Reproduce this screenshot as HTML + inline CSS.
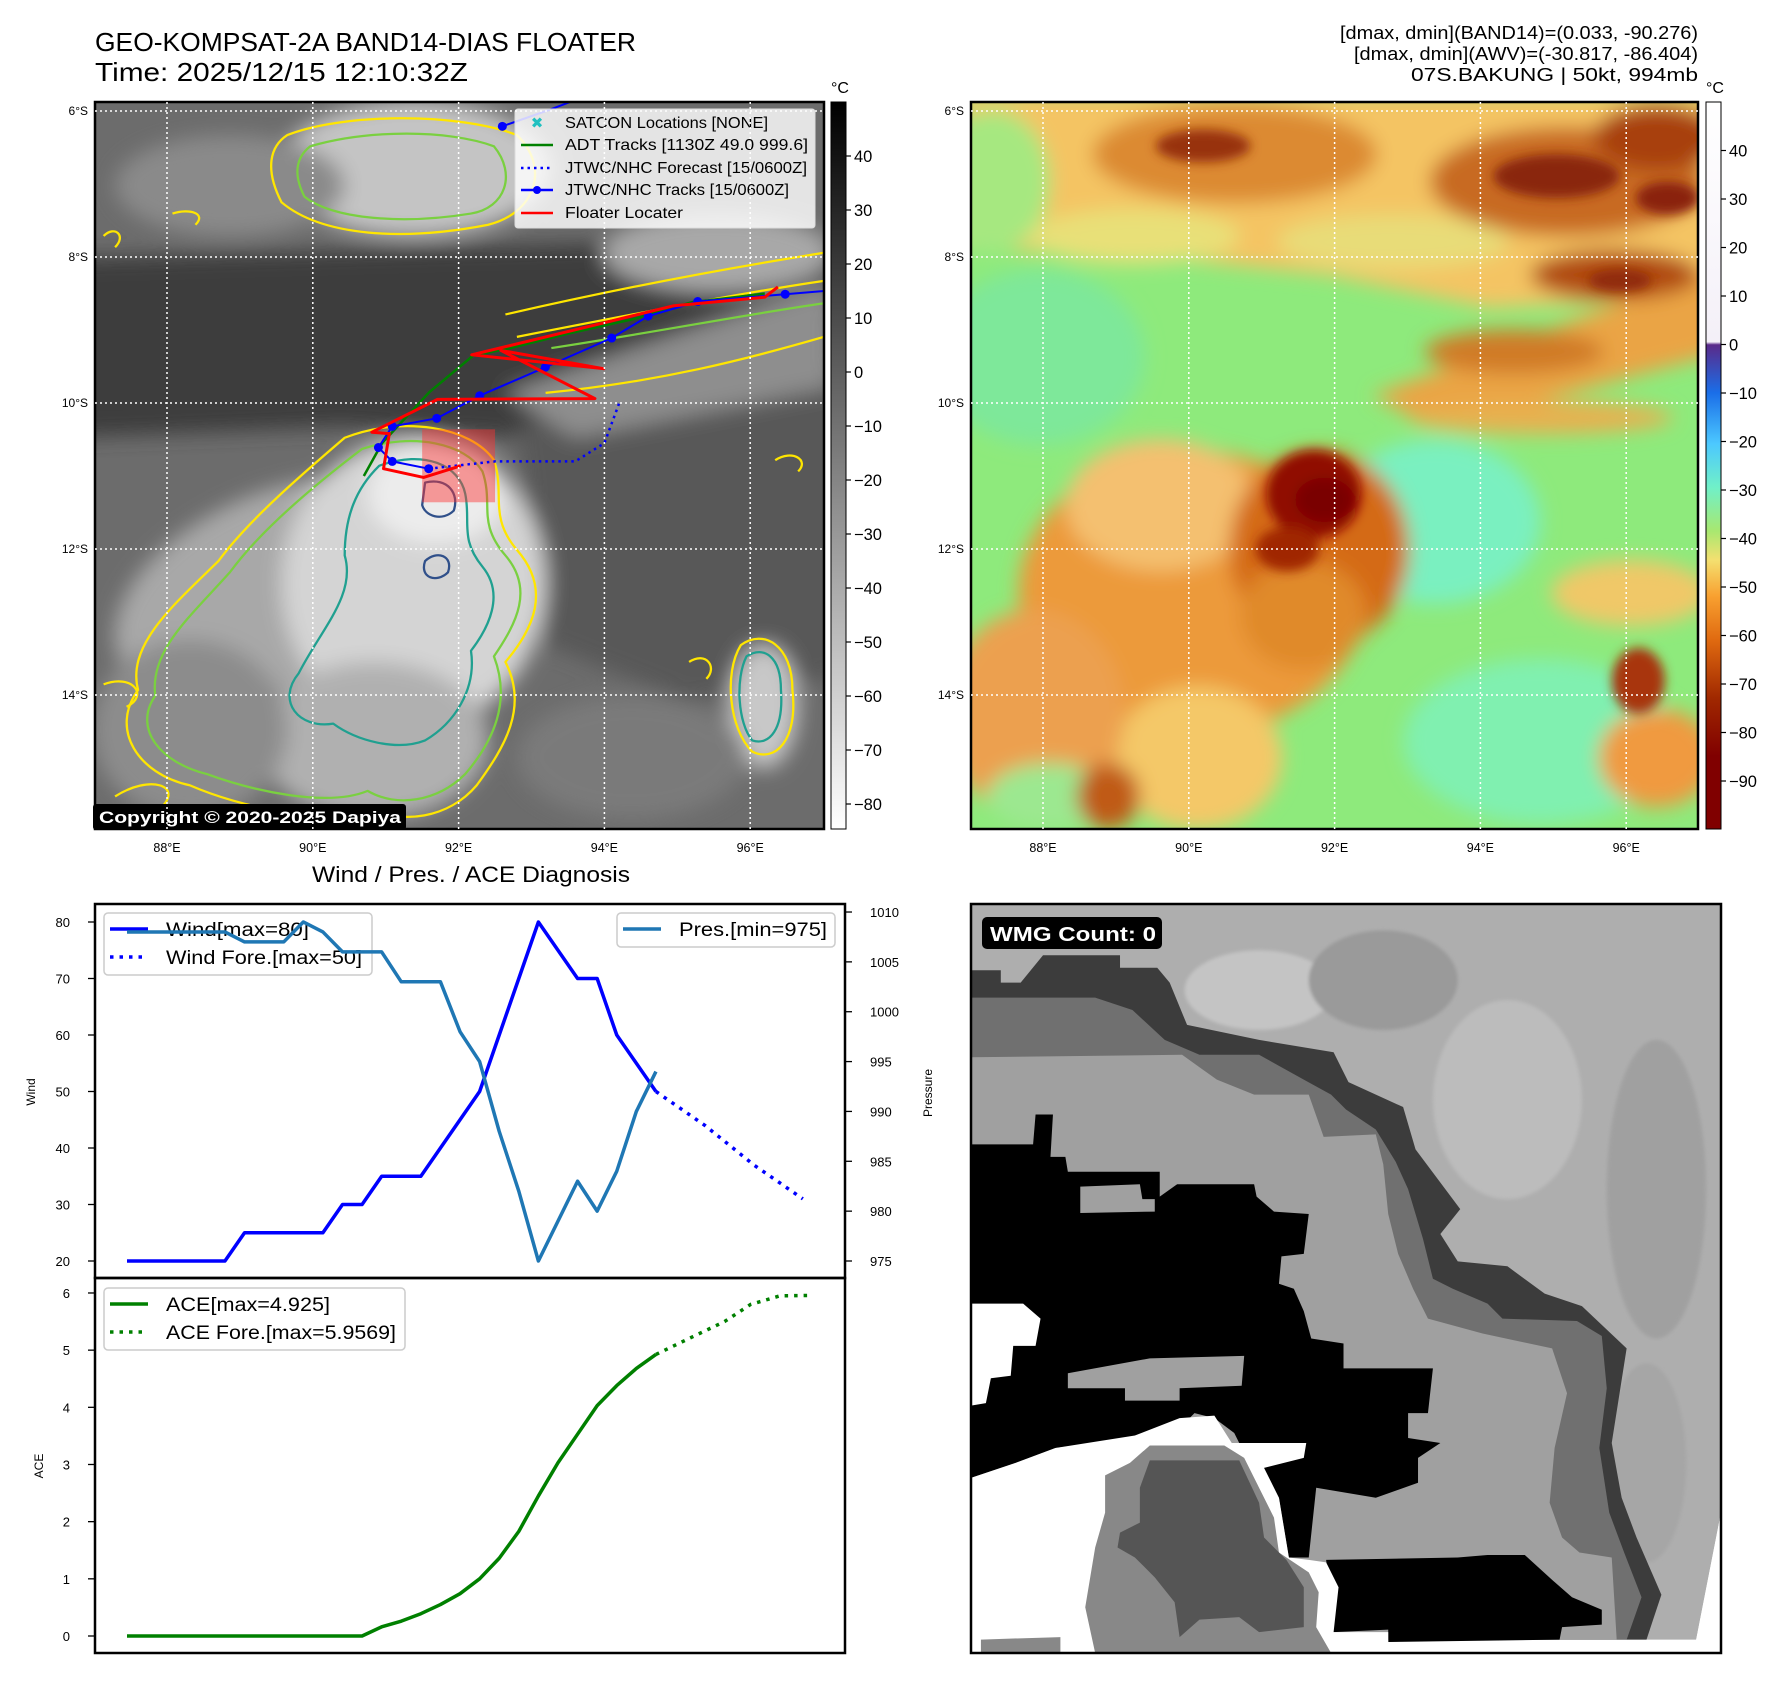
<!DOCTYPE html>
<html><head><meta charset="utf-8">
<style>
html,body{margin:0;padding:0;background:#fff;}
svg{display:block;font-family:"Liberation Sans","DejaVu Sans",sans-serif;}
</style></head>
<body>
<svg id="root" width="1788" height="1690" viewBox="0 0 1788 1690" xmlns="http://www.w3.org/2000/svg">
<defs>
  <filter id="blur1" x="-20%" y="-20%" width="140%" height="140%"><feGaussianBlur stdDeviation="18"/></filter>
  <filter id="blur2" x="-20%" y="-20%" width="140%" height="140%"><feGaussianBlur stdDeviation="10"/></filter>
  <filter id="blur3" x="-20%" y="-20%" width="140%" height="140%"><feGaussianBlur stdDeviation="4"/></filter>
  <linearGradient id="cbGray" x1="0" y1="0" x2="0" y2="1">
    <stop offset="0" stop-color="#000"/><stop offset="1" stop-color="#fff"/>
  </linearGradient>
  <linearGradient id="cbColor" x1="0" y1="0" x2="0" y2="1">
    <stop offset="0" stop-color="#ffffff"/>
    <stop offset="0.33" stop-color="#f4f0f8"/>
    <stop offset="0.334" stop-color="#5a2a8a"/>
    <stop offset="0.40" stop-color="#1a6ee8"/>
    <stop offset="0.47" stop-color="#4cc8ff"/>
    <stop offset="0.53" stop-color="#70f0c8"/>
    <stop offset="0.59" stop-color="#a8e870"/>
    <stop offset="0.63" stop-color="#f4e070"/>
    <stop offset="0.68" stop-color="#f8a030"/>
    <stop offset="0.74" stop-color="#e06a10"/>
    <stop offset="0.82" stop-color="#a02800"/>
    <stop offset="0.90" stop-color="#800000"/>
    <stop offset="1" stop-color="#800000"/>
  </linearGradient>
  <clipPath id="clipTL"><rect x="95" y="102" width="729" height="727"/></clipPath>
  <clipPath id="clipTR"><rect x="971" y="102" width="727" height="727"/></clipPath>
  <clipPath id="clipBR"><rect x="971" y="904" width="750" height="749"/></clipPath>
</defs>

<!-- Titles -->
<text x="95" y="51" font-size="26" textLength="541" lengthAdjust="spacingAndGlyphs" fill="#000">GEO-KOMPSAT-2A BAND14-DIAS FLOATER</text>
<text x="95" y="81" font-size="26" textLength="373" lengthAdjust="spacingAndGlyphs" fill="#000">Time: 2025/12/15 12:10:32Z</text>
<g font-size="18" text-anchor="end" fill="#000">
  <text x="1698" y="39" textLength="358" lengthAdjust="spacingAndGlyphs">[dmax, dmin](BAND14)=(0.033, -90.276)</text>
  <text x="1698" y="60" textLength="344" lengthAdjust="spacingAndGlyphs">[dmax, dmin](AWV)=(-30.817, -86.404)</text>
  <text x="1698" y="81" textLength="287" lengthAdjust="spacingAndGlyphs">07S.BAKUNG | 50kt, 994mb</text>
</g>

<!-- ===== Top-left IR map ===== -->
<g clip-path="url(#clipTL)">
 <svg x="95" y="102" width="729" height="727" viewBox="165 181 1270 1297" preserveAspectRatio="none">
  <rect x="100" y="100" width="1400" height="1450" fill="#6c6c6c"/>
  <g filter="url(#blur1)">
   <polygon points="100,460 1500,420 1500,560 1100,620 900,780 600,760 100,780" fill="#3c3c3c"/>
   <polygon points="900,760 1500,640 1500,1200 1200,1250 950,1150" fill="#585858"/>
   <ellipse cx="720" cy="300" rx="240" ry="120" fill="#c4c4c4"/>
   <ellipse cx="400" cy="330" rx="200" ry="90" fill="#8a8a8a"/>
   <ellipse cx="1250" cy="450" rx="200" ry="70" fill="#a8a8a8"/>
   <polygon points="880,700 1450,500 1450,690 1000,780" fill="#8e8e8e"/>
   <ellipse cx="480" cy="1050" rx="300" ry="170" fill="#a8a8a8" transform="rotate(-25 480 1050)"/>
   <ellipse cx="720" cy="1040" rx="230" ry="260" fill="#d4d4d4"/>
   <ellipse cx="650" cy="1320" rx="200" ry="140" fill="#b0b0b0"/>
   <ellipse cx="330" cy="1300" rx="170" ry="160" fill="#8c8c8c"/>
   <ellipse cx="760" cy="880" rx="120" ry="90" fill="#ececec"/>
   <ellipse cx="1330" cy="1260" rx="60" ry="110" fill="#c8c8c8"/>
   <ellipse cx="1100" cy="1350" rx="200" ry="110" fill="#7a7a7a"/>
  </g>
  <g fill="none" stroke-width="4" stroke-linejoin="round">
   <path d="M600,780 C700,740 820,760 860,820 C880,880 850,920 900,980 C960,1050 930,1120 880,1180 C920,1260 880,1330 830,1400 C780,1460 700,1470 640,1440 C560,1470 420,1440 330,1400 C240,1380 190,1300 240,1230 C220,1150 300,1080 380,1000 C430,930 520,850 600,780 Z" stroke="#ffe600"/>
   <path d="M630,800 C720,770 810,790 840,840 C860,900 830,930 880,990 C930,1050 900,1110 860,1170 C890,1250 860,1320 810,1380 C760,1430 690,1440 640,1410 C570,1440 440,1410 360,1380 C280,1360 230,1300 270,1240 C260,1160 330,1100 400,1020 C450,950 540,870 630,800 Z" stroke="#7ad040"/>
   <path d="M660,830 C740,800 800,830 810,880 C820,930 800,960 840,1010 C880,1060 850,1120 820,1160 C830,1230 790,1290 740,1320 C690,1340 620,1320 580,1290 C520,1300 480,1250 520,1200 C560,1120 620,1060 600,990 C600,920 620,870 660,830 Z" stroke="#20a090"/>
   <path d="M740,860 C780,850 800,880 790,910 C770,930 740,920 735,900 Z M740,1000 C760,980 790,990 780,1020 C760,1040 730,1030 740,1000 Z" stroke="#30508a"/>
   <path d="M500,240 C600,200 800,200 900,240 C960,300 930,380 850,400 C700,430 560,420 490,360 C460,300 470,260 500,240 Z" stroke="#ffe600"/>
   <path d="M540,260 C640,230 780,230 860,260 C900,310 880,370 820,380 C700,400 580,390 530,350 C510,310 515,280 540,260 Z" stroke="#7ad040"/>
   <path d="M880,560 C1050,520 1250,480 1435,450 M900,600 C1100,560 1300,520 1435,500 M950,700 C1150,680 1300,640 1435,600" stroke="#ffe600"/>
   <path d="M960,620 C1150,590 1300,560 1435,540" stroke="#7ad040"/>
   <path d="M1290,1150 C1330,1120 1380,1150 1380,1230 C1390,1320 1350,1360 1310,1340 C1270,1300 1260,1200 1290,1150 Z" stroke="#ffe600"/>
   <path d="M1300,1170 C1330,1150 1360,1170 1360,1230 C1365,1300 1340,1330 1310,1320 C1285,1290 1280,1210 1300,1170 Z" stroke="#20a090"/>
   <path d="M180,420 C200,400 220,420 200,440 M300,380 C330,370 360,380 340,400 M180,1220 C230,1200 260,1240 220,1260 M200,1420 C260,1380 320,1400 280,1440 M1200,1180 C1230,1160 1250,1190 1230,1210 M1350,820 C1380,800 1410,820 1390,840" stroke="#ffe600"/>
  </g>
 </svg>
 <g id="tlTracks"></g>
</g>
<rect x="95" y="102" width="729" height="727" fill="none" stroke="#000" stroke-width="2.5"/>

<!-- legend top-left -->
<g>
  <rect x="515" y="109" width="300" height="119" rx="3" fill="#fff" fill-opacity="0.82" stroke="#ddd"/>
  <g font-size="16" fill="#000" lengthAdjust="spacingAndGlyphs">
    <text x="565" y="128" textLength="203" lengthAdjust="spacingAndGlyphs">SATCON Locations [NONE]</text>
    <text x="565" y="150" textLength="243" lengthAdjust="spacingAndGlyphs">ADT Tracks [1130Z 49.0 999.6]</text>
    <text x="565" y="173" textLength="242" lengthAdjust="spacingAndGlyphs">JTWC/NHC Forecast [15/0600Z]</text>
    <text x="565" y="195" textLength="224" lengthAdjust="spacingAndGlyphs">JTWC/NHC Tracks [15/0600Z]</text>
    <text x="565" y="218" textLength="118" lengthAdjust="spacingAndGlyphs">Floater Locater</text>
  </g>
  <text x="537" y="128" font-size="15" font-weight="bold" fill="#20c0c0" text-anchor="middle">✖</text>
  <line x1="521" y1="145" x2="553" y2="145" stroke="#008000" stroke-width="2.5"/>
  <line x1="521" y1="168" x2="553" y2="168" stroke="#0000ff" stroke-width="2.5" stroke-dasharray="2.5,4"/>
  <line x1="521" y1="190" x2="553" y2="190" stroke="#0000ff" stroke-width="2.5"/>
  <circle cx="537" cy="190" r="4" fill="#0000ff"/>
  <line x1="521" y1="213" x2="553" y2="213" stroke="#ff0000" stroke-width="2.5"/>
</g>
<g>
  <rect x="93" y="804" width="313" height="26" rx="3" fill="#000"/>
  <text x="99" y="823" font-size="17" font-weight="bold" fill="#fff" textLength="302" lengthAdjust="spacingAndGlyphs">Copyright © 2020-2025 Dapiya</text>
</g>

<!-- colorbar 1 -->
<g>
  <rect x="831" y="102" width="15" height="727" fill="url(#cbGray)" stroke="#000" stroke-width="1"/>
  <text x="840" y="93" font-size="16" text-anchor="middle">°C</text>
  <g id="cb1ticks" font-size="16.5"></g>
</g>

<!-- ===== Top-right color map ===== -->
<g clip-path="url(#clipTR)">
 <svg x="971" y="102" width="727" height="727" viewBox="20 185 1378 1325" preserveAspectRatio="none">
  <rect x="0" y="150" width="1450" height="1400" fill="#8eea7c"/>
  <g filter="url(#blur1)">
   <ellipse cx="150" cy="650" rx="200" ry="160" fill="#7ee89a"/>
   <ellipse cx="900" cy="950" rx="200" ry="150" fill="#7af0c0"/>
   <ellipse cx="1100" cy="1350" rx="260" ry="150" fill="#80f0b0"/>
   <polygon points="0,170 1450,170 1450,540 1000,560 700,500 400,470 0,450" fill="#f4c464"/>
   <ellipse cx="60" cy="330" rx="110" ry="130" fill="#a6e880"/>
   <ellipse cx="330" cy="430" rx="200" ry="50" fill="#e8e078"/>
   <ellipse cx="820" cy="440" rx="220" ry="50" fill="#e8dc78"/>
   <ellipse cx="520" cy="280" rx="270" ry="90" fill="#dc8a30"/>
   <ellipse cx="1150" cy="330" rx="260" ry="100" fill="#c86a20"/>
   <ellipse cx="1320" cy="250" rx="120" ry="60" fill="#a84008"/>
   <polygon points="780,720 1450,480 1450,640 900,780" fill="#eaa444"/>
   <ellipse cx="1240" cy="500" rx="160" ry="45" fill="#b04a10"/>
   <ellipse cx="1050" cy="640" rx="170" ry="40" fill="#d07a28"/>
   <ellipse cx="1100" cy="760" rx="250" ry="30" fill="#e8b050"/>
   <ellipse cx="440" cy="1080" rx="330" ry="260" fill="#ec9a3a"/>
   <ellipse cx="380" cy="920" rx="180" ry="120" fill="#f4c070"/>
   <ellipse cx="680" cy="1000" rx="170" ry="180" fill="#d46a18"/>
   <ellipse cx="650" cy="1120" rx="120" ry="100" fill="#e08a2a"/>
   <ellipse cx="450" cy="1380" rx="160" ry="130" fill="#f4c868"/>
   <ellipse cx="140" cy="1300" rx="170" ry="190" fill="#eca050"/>
   <ellipse cx="170" cy="1450" rx="120" ry="60" fill="#9ce890"/>
   <ellipse cx="280" cy="1450" rx="60" ry="60" fill="#c05a18"/>
   <ellipse cx="1320" cy="1380" rx="110" ry="90" fill="#f09a40"/>
   <ellipse cx="1270" cy="1080" rx="150" ry="60" fill="#f0c868"/>
  </g>
  <g filter="url(#blur2)">
   <ellipse cx="670" cy="900" rx="90" ry="80" fill="#900800"/>
   <ellipse cx="690" cy="910" rx="55" ry="40" fill="#7a0000"/>
   <ellipse cx="620" cy="1000" rx="60" ry="40" fill="#a02800"/>
   <ellipse cx="1285" cy="1240" rx="50" ry="60" fill="#a83408"/>
   <ellipse cx="460" cy="265" rx="90" ry="30" fill="#98300a"/>
   <ellipse cx="1130" cy="320" rx="120" ry="40" fill="#8a2608"/>
   <ellipse cx="1340" cy="360" rx="60" ry="30" fill="#8a2008"/>
   <ellipse cx="1250" cy="510" rx="60" ry="20" fill="#902a08"/>
  </g>
 </svg>
</g>
<rect x="971" y="102" width="727" height="727" fill="none" stroke="#000" stroke-width="2.5"/>
<g>
  <rect x="1706" y="102" width="15" height="727" fill="url(#cbColor)" stroke="#000" stroke-width="1"/>
  <text x="1715" y="93" font-size="16" text-anchor="middle">°C</text>
  <g id="cb2ticks" font-size="16.5"></g>
</g>

<!-- grids and lat/lon labels generated -->
<g id="mapGrids"></g>

<!-- ===== Bottom-right WMG panel ===== -->
<g clip-path="url(#clipBR)">
 <svg x="971" y="904" width="750" height="749" viewBox="20 27 1510 1505" preserveAspectRatio="none">
  <rect x="0" y="0" width="1600" height="1600" fill="#fff"/>
  <polygon points="20,27 1530,27 1530,1250 1480,1505 20,1505" fill="#aeaeae"/>
  <g filter="url(#blur3)">
   <ellipse cx="600" cy="200" rx="150" ry="80" fill="#c4c4c4"/>
   <ellipse cx="850" cy="180" rx="150" ry="100" fill="#9a9a9a"/>
   <ellipse cx="1100" cy="420" rx="150" ry="200" fill="#bcbcbc"/>
   <ellipse cx="1400" cy="600" rx="100" ry="300" fill="#a0a0a0"/>
   <ellipse cx="1380" cy="1150" rx="80" ry="200" fill="#a6a6a6"/>
  </g>
  <polygon points="20,160 80,160 80,185 120,185 165,130 320,130 320,155 395,155 420,185 455,270 600,300 750,325 780,385 890,435 915,520 1005,640 965,690 1000,745 1100,755 1175,810 1250,835 1340,920 1310,1110 1330,1220 1360,1300 1410,1415 1380,1505 20,1505" fill="#3c3c3c"/>
  <polygon points="20,215 185,215 270,215 345,240 410,300 480,330 600,330 690,380 745,410 775,440 835,480 875,545 900,600 930,700 950,780 990,800 1060,830 1090,860 1240,865 1290,895 1300,1000 1285,1120 1305,1250 1335,1330 1370,1420 1340,1505 20,1505" fill="#707070"/>
  <polygon points="20,335 445,330 480,355 515,380 590,410 700,410 730,495 835,490 850,550 860,650 880,730 910,800 940,860 1050,890 1190,920 1220,1010 1195,1120 1185,1230 1210,1300 1245,1330 1310,1340 1320,1505 20,1505" fill="#a0a0a0"/>
  <polygon points="20,510 145,510 150,450 185,450 180,535 210,535 215,565 400,565 400,615 435,590 590,590 595,615 630,645 700,650 690,730 645,735 640,790 670,800 690,845 705,900 770,910 770,960 950,960 940,1050 900,1050 900,1100 965,1110 920,1140 920,1190 835,1220 715,1200 700,1340 660,1340 640,1220 600,1200 580,1150 550,1090 510,1060 470,1050 440,1080 400,1080 350,1100 190,1120 110,1150 20,1180" fill="#000"/>
  <polygon points="240,595 360,590 365,620 390,620 390,645 240,648" fill="#a0a0a0"/>
  <polygon points="215,970 380,940 570,935 565,995 440,1000 440,1025 330,1025 330,1000 215,1000" fill="#a0a0a0"/>
  <polygon points="735,1345 1000,1340 1060,1335 1135,1335 1190,1385 1230,1420 1290,1445 1290,1475 1210,1480 1205,1505 860,1510 860,1485 750,1490" fill="#000"/>
  <polygon points="20,830 125,830 160,860 150,915 105,915 100,975 60,980 50,1030 20,1035" fill="#fff"/>
  <polygon points="20,1180 110,1150 190,1120 350,1095 440,1060 510,1055 545,1110 620,1110 695,1110 690,1140 610,1160 640,1220 660,1340 700,1345 735,1350 760,1400 750,1490 860,1490 860,1532 20,1532" fill="#fff"/>
  <polygon points="290,1175 340,1150 380,1115 530,1115 570,1140 600,1200 630,1260 640,1330 700,1370 720,1410 715,1480 745,1532 270,1532 250,1440 270,1320 290,1250" fill="#888"/>
  <polygon points="40,1505 200,1500 200,1532 40,1532" fill="#888"/>
  <polygon points="380,1145 560,1145 600,1230 610,1300 655,1345 690,1400 690,1480 600,1490 560,1460 480,1465 440,1500 430,1430 390,1380 350,1340 315,1320 320,1290 360,1270 360,1200" fill="#555"/>
  <polygon points="1480,1505 1530,1250 1530,1532 1480,1532" fill="#fff"/>
 </svg>
</g>
<rect x="971" y="904" width="750" height="749" fill="none" stroke="#000" stroke-width="2.5"/>
<g>
  <rect x="982" y="917" width="180" height="32" rx="5" fill="#000"/>
  <text x="990" y="941" font-size="20" font-weight="bold" fill="#fff" textLength="166" lengthAdjust="spacingAndGlyphs">WMG Count: 0</text>
</g>

<!-- ===== Bottom-left charts ===== -->
<text x="471" y="882" font-size="22" text-anchor="middle" textLength="318" lengthAdjust="spacingAndGlyphs">Wind / Pres. / ACE Diagnosis</text>
<g id="charts"></g>
</svg>

<script>
// ---------- Chart data ----------
const windHours = [0,6,12,18,24,30,36,42,48,54,60,66,72,78,84,90,96,102,108,114,120,126,132,138,144,150,156,162];
const windValues = [20,20,20,20,20,20,25,25,25,25,25,30,30,35,35,35,40,45,50,60,70,80,75,70,70,60,55,50];
const windForeHours = [162,177,192,207];
const windForeValues = [50,44,37,31];
const presHours = [0,6,12,18,24,30,36,42,48,54,60,66,72,78,84,90,96,102,108,114,120,126,132,138,144,150,156,162];
const presValues = [1008,1008,1008,1008,1008,1008,1007,1007,1007,1009,1008,1006,1006,1006,1003,1003,1003,998,995,988,982,975,979,983,980,984,990,994];
const aceHours = [0,6,12,18,24,30,36,42,48,54,60,66,72,78,84,90,96,102,108,114,120,126,132,138,144,150,156,162];
const aceValues = [0,0,0,0,0,0,0,0,0,0,0,0,0,0.16,0.26,0.39,0.55,0.74,1.0,1.36,1.83,2.45,3.03,3.53,4.03,4.38,4.68,4.925];
const aceForeHours = [162,172,183,191,200,209];
const aceForeValues = [4.925,5.2,5.5,5.8,5.95,5.957];
const windTicks = [20,30,40,50,60,70,80];
const presTicks = [975,980,985,990,995,1000,1005,1010];
const aceTicks = [0,1,2,3,4,5,6];
// ---------- Track data (lon E, lat S) ----------
const jtwcLon = [92.6,93.2,93.6];
const jtwcLat = [6.21,6.0,5.85];
const bestLon = [97.2,96.48,95.28,94.60,94.10,93.19,92.29,91.70,91.09,90.90,91.09,91.59];
const bestLat = [8.45,8.51,8.61,8.81,9.11,9.51,9.90,10.21,10.32,10.61,10.80,10.90];
const foreLon = [91.59,92.5,93.6,94.0,94.2];
const foreLat = [10.90,10.80,10.80,10.55,10.01];
const adtLon = [90.7,90.95,91.6,92.2,92.7,93.5,94.4,95.2,95.8,96.2];
const adtLat = [11.0,10.55,9.85,9.35,9.25,9.05,8.85,8.62,8.55,8.5];
const floaterLon = [96.38,96.2,94.94,94.0,92.18,93.99,92.58,93.87,91.71,90.81,91.05,90.97,91.52,92.03];
const floaterLat = [8.41,8.55,8.67,8.9,9.34,9.53,9.28,9.94,9.95,10.40,10.42,10.90,11.02,10.86];
const boxLon = [91.5,92.5];
const boxLat = [10.36,11.36];
const cb1Ticks = [40,30,20,10,0,-10,-20,-30,-40,-50,-60,-70,-80];
const cb2Ticks = [40,30,20,10,0,-10,-20,-30,-40,-50,-60,-70,-80,-90];
const lonTicks = [88,90,92,94,96];
const latTicks = [6,8,10,12,14];

const NS = 'http://www.w3.org/2000/svg';
function mk(tag, attrs, parent){ const e=document.createElementNS(NS,tag); for(const k in attrs) e.setAttribute(k,attrs[k]); if(parent) parent.appendChild(e); return e; }

// axis functions
const hx = h => 127 + h*3.265;
const wy = v => 1261 - (v-20)*5.65;
const py = p => 1261 - (p-975)*9.971;
const ay = a => 1636 - a*57.17;
const lonX = (lon, off) => 167 + off + (lon-88)*72.9;
const latY = lat => 111 + (lat-6)*73;
const cb1Y = v => 102 + (50-v)*5.4;
const cb2Y = v => 102 + (50-v)*4.85;

// colorbar ticks
const cb1 = document.getElementById('cb1ticks');
cb1Ticks.forEach(v=>{ const y=cb1Y(v);
  const l=mk('line',{x1:846,x2:851,y1:y,y2:y,stroke:'#000','stroke-width':1.2},cb1);
  
  
  const t=mk('text',{x:854,y:y+6},cb1); t.textContent=(v<0?'\u2212'+(-v):v);
  
  
});
const cb2 = document.getElementById('cb2ticks');
cb2Ticks.forEach(v=>{ const y=cb2Y(v);
  const l=mk('line',{x1:1721,x2:1726,y1:y,y2:y,stroke:'#000','stroke-width':1.2},cb2);
  
  
  const t=mk('text',{x:1729,y:y+6},cb2); t.textContent=(v<0?'\u2212'+(-v):v);
  
  
});

// map grids
const grids = document.getElementById('mapGrids');
[[0,95,824],[876,971,1698]].forEach(([off,x0,x1])=>{
  lonTicks.forEach(lon=>{ const x=lonX(lon,off);
    const g=mk('line',{x1:x,x2:x,y1:102,y2:829,stroke:'#fff','stroke-width':1.5,'stroke-dasharray':'2,3'},grids);
    
    
    const t=mk('text',{x:x,y:852,'font-size':12.5,'text-anchor':'middle'},grids); t.textContent=lon+'°E';
    
    
  });
  latTicks.forEach(lat=>{ const y=latY(lat);
    const g=mk('line',{x1:x0,x2:x1,y1:y,y2:y,stroke:'#fff','stroke-width':1.5,'stroke-dasharray':'2,3'},grids);
    
    
    const t=mk('text',{x:x0-7,y:y+4,'font-size':12,'text-anchor':'end'},grids); t.textContent=lat+'°S';
    
    
  });
});

// tracks
const tr = document.getElementById('tlTracks');
function pts(lons,lats){ return lons.map((l,i)=>lonX(l,0)+','+latY(lats[i])).join(' '); }
const box = mk('rect',{x:lonX(boxLon[0],0),y:latY(boxLat[0]),width:lonX(boxLon[1],0)-lonX(boxLon[0],0),height:latY(boxLat[1])-latY(boxLat[0]),fill:'#ff3030','fill-opacity':0.45},tr);


const adt = mk('polyline',{points:pts(adtLon,adtLat),fill:'none',stroke:'#008000','stroke-width':2.5},tr);


const jt = mk('polyline',{points:pts(jtwcLon,jtwcLat),fill:'none',stroke:'#0000ff','stroke-width':2},tr);


const jc = mk('circle',{cx:lonX(jtwcLon[0],0),cy:latY(jtwcLat[0]),r:4.5,fill:'#0000ff'},tr);


const fc = mk('polyline',{points:pts(foreLon,foreLat),fill:'none',stroke:'#0000ff','stroke-width':2.5,'stroke-dasharray':'2.5,4'},tr);


const bt = mk('polyline',{points:pts(bestLon,bestLat),fill:'none',stroke:'#0000ff','stroke-width':2},tr);


bestLon.forEach((l,i)=>{ if(i===0) return;
  const c=mk('circle',{cx:lonX(l,0),cy:latY(bestLat[i]),r:4.5,fill:'#0000ff'},tr);
  
  
});
const fl = mk('polyline',{points:pts(floaterLon,floaterLat),fill:'none',stroke:'#ff0000','stroke-width':3,'stroke-linejoin':'round'},tr);



// charts
const ch = document.getElementById('charts');
function axesBox(y0,y1,name){ const r=mk('rect',{x:95,y:y0,width:750,height:y1-y0,fill:'none',stroke:'#000','stroke-width':2.5},ch);
    }
function line(hs,vs,fy,color,dash,name){ const p=hs.map((h,i)=>hx(h)+','+fy(vs[i])).join(' ');
  const attrs={points:p,fill:'none',stroke:color,'stroke-width':3.5,'stroke-linejoin':'round'};
  if(dash) attrs['stroke-dasharray']=dash;
  const e=mk('polyline',attrs,ch);
  
   }
// ticks
windTicks.forEach(v=>{ const y=wy(v);
  const l=mk('line',{x1:88,x2:95,y1:y,y2:y,stroke:'#000','stroke-width':1.3},ch);
   
  const t=mk('text',{x:70,y:y+5,'font-size':13,'text-anchor':'end'},ch); t.textContent=v;
    });
presTicks.forEach(v=>{ const y=py(v);
  const l=mk('line',{x1:845,x2:852,y1:y,y2:y,stroke:'#000','stroke-width':1.3},ch);
   
  const t=mk('text',{x:870,y:y+5,'font-size':13},ch); t.textContent=v;
    });
aceTicks.forEach(v=>{ const y=ay(v);
  const l=mk('line',{x1:88,x2:95,y1:y,y2:y,stroke:'#000','stroke-width':1.3},ch);
   
  const t=mk('text',{x:70,y:y+5,'font-size':13,'text-anchor':'end'},ch); t.textContent=v;
    });
let t1=mk('text',{x:0,y:0,'font-size':12,'text-anchor':'middle',transform:'translate(35 1092) rotate(-90)'},ch); t1.textContent='Wind';
 
let t2=mk('text',{x:0,y:0,'font-size':12,'text-anchor':'middle',transform:'translate(932 1093) rotate(-90)'},ch); t2.textContent='Pressure';
 
let t3=mk('text',{x:0,y:0,'font-size':12,'text-anchor':'middle',transform:'translate(43 1466) rotate(-90)'},ch); t3.textContent='ACE';
 

// legends
function legend(x,y,w,h,items,name){ const g=mk('g',{},ch);
   
  mk('rect',{x:x,y:y,width:w,height:h,rx:4,fill:'#fff','fill-opacity':0.8,stroke:'#ccc','stroke-width':1.5},g);
  items.forEach((it,i)=>{ const cy=y+16+i*28;
    const a={x1:x+6,x2:x+44,y1:cy,y2:cy,stroke:it[1],'stroke-width':3.5}; if(it[2]) a['stroke-dasharray']=it[2];
    mk('line',a,g);
    const t=mk('text',{x:x+62,y:cy+7,'font-size':19,textLength:it[3],lengthAdjust:'spacingAndGlyphs'},g); t.textContent=it[0]; });
}
legend(104,913,268,62,[['Wind[max=80]','#0000ff',null,143],['Wind Fore.[max=50]','#0000ff','3.5,6',196]],'wind-legend');

line(windHours,windValues,wy,'#0000ff',null,'wind-line');
line(windForeHours,windForeValues,wy,'#0000ff','3.5,6','wind-forecast-line');
line(presHours,presValues,py,'#1f77b4',null,'pressure-line');
legend(617,913,218,34,[['Pres.[min=975]','#1f77b4',null,148]],'pressure-legend');
line(aceHours,aceValues,ay,'#008000',null,'ace-line');
line(aceForeHours,aceForeValues,ay,'#008000','3.5,6','ace-forecast-line');
axesBox(904,1278,'wind-pressure-axes');
axesBox(1278,1653,'ace-axes');
legend(104,1288,301,62,[['ACE[max=4.925]','#008000',null,164],['ACE Fore.[max=5.9569]','#008000','3.5,6',230]],'ace-legend');
</script>
</body></html>
